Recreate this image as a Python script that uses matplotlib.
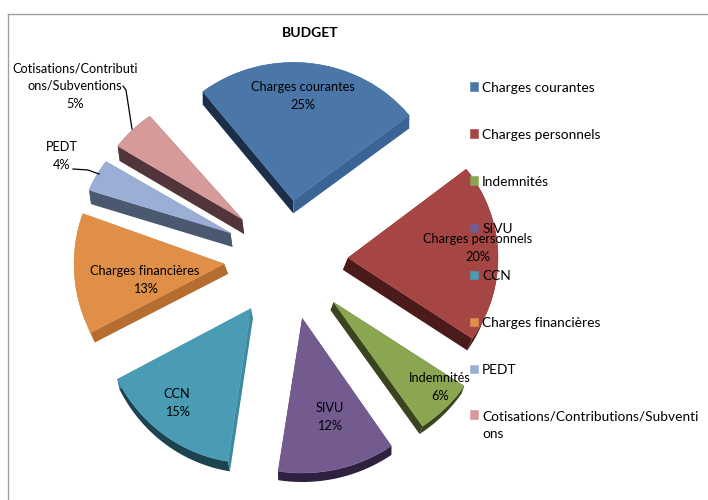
import numpy as np
import matplotlib
matplotlib.use("Agg")
import matplotlib.pyplot as plt
from matplotlib.transforms import Affine2D

labels = ["Charges courantes", "Charges personnels", "Indemnités", "SIVU", "CCN",
          "Charges financières", "PEDT", "Cotisations/Contributions/Subventions"]
legend_labels = labels[:-1] + ["Cotisations/Contributions/Subventi\nons"]
values = [25, 20, 6, 12, 15, 13, 4, 5]
colors = ["#4a76a8", "#a64644", "#8aa650", "#735b90", "#4a9cb4", "#e08f48", "#9bafd6", "#d69a9a"]

# side faces of the fake 3d: first cut, last cut, outer rim
start_side = ["#1b2f4a", "#4a1b1a", "#3a4520", "#2e2140", "#3d8a9e", "#b56d30", "#4a5870", "#52353a"]
end_side = ["#3a6396", "#4a1b1a", "#3a4520", "#2e2140", "#3d8a9e", "#b56d30", "#4a5870", "#52353a"]
rim_side = ["#3a6396", "#4a1b1a", "#3a4520", "#2e2140", "#1c4350", "#b56d30", "#4a5870", "#52353a"]
depth_x = [0, -5, -3, 0, 2, 4, 2, 2]
depth_y = [13, 12, 8, 9, 10, 10, 14, 15]

# perspective of the original: far slices are squashed, near ones stretched
squash_x = [0.98, 1, 1.05, 1.05, 1, 1, 1, 1]
squash_y = [0.92, 0.96, 1, 1.03, 1.03, 1, 0.85, 0.87]
nudge_x = [0, 2, 5, 3, 0, -2, -2, 0]

plt.rcParams["font.family"] = ["Lato", "DejaVu Sans"]

W, H = 708, 500
LEFT, TOP = 8, 14
CX, CY, SCALE = 286, 260, 150


def to_data(px, py):
    return (px - CX) / SCALE, (CY - py) / SCALE


fig = plt.figure(figsize=(W / 100, H / 100), dpi=100)
ax = fig.add_axes([LEFT / W, 0, (W - LEFT) / W, (H - TOP) / H])

wedges, _ = ax.pie(values, colors=colors, startangle=128, counterclock=False,
                   explode=[0.4] * len(values), radius=1)

ax.set_frame_on(True)
ax.set_aspect("equal")
ax.set_xlim((LEFT - CX) / SCALE, (W - CX) / SCALE)
ax.set_ylim((CY - H) / SCALE, (CY - TOP) / SCALE)
ax.set_xticks([])
ax.set_yticks([])
for side in ["right", "bottom"]:
    ax.spines[side].set_visible(False)
for side in ["top", "left"]:
    ax.spines[side].set_color("#a0a0a0")
    ax.spines[side].set_linewidth(1)

for i, w in enumerate(wedges):
    cx, cy = w.center
    shift = nudge_x[i] / SCALE
    w.set_transform(Affine2D().translate(-cx, -cy).scale(squash_x[i], squash_y[i])
                    .translate(cx + shift, cy) + ax.transData)
    w.set_zorder(3)
    w.set_edgecolor(colors[i])
    w.set_linewidth(0.4)

    dx, dy = depth_x[i] / SCALE, -depth_y[i] / SCALE
    t = np.radians(np.linspace(w.theta1, w.theta2, 60))
    ox = cx + shift + squash_x[i] * w.r * np.cos(t)
    oy = cy + squash_y[i] * w.r * np.sin(t)
    ax0 = cx + shift
    ax.fill(np.r_[ox, ox[::-1] + dx], np.r_[oy, oy[::-1] + dy], color=rim_side[i], lw=0, zorder=1)
    # theta2 is where the slice starts because it runs clockwise
    ax.fill([ax0, ox[-1], ox[-1] + dx, ax0 + dx], [cy, oy[-1], oy[-1] + dy, cy + dy],
            color=start_side[i], lw=0, zorder=2)
    ax.fill([ax0, ox[0], ox[0] + dx, ax0 + dx], [cy, oy[0], oy[0] + dy, cy + dy],
            color=end_side[i], lw=0, zorder=2)

leg = ax.legend(wedges, legend_labels, loc="upper left", bbox_to_anchor=(470 / W, (H - 81.5) / H),
                bbox_transform=fig.transFigure, frameon=False, fontsize=9.9,
                handlelength=0.58, handleheight=0.58, handletextpad=0.3,
                labelspacing=2.55, borderpad=0, borderaxespad=0)
leg.get_texts()[-1].set_linespacing(1.5)
# square of the wrapped entry sits level with its first line
last = leg.legend_handles[-1]
last.set_y(last.get_y() + 8)

fig.text(310 / W, 1 - 33 / H, "BUDGET", fontsize=10, fontweight="bold", ha="center", va="center")

slice_text = [
    (303, 96, "Charges courantes\n25%"),
    (478, 248, "Charges personnels\n20%"),
    (440, 387, "Indemnités\n6%"),
    (330, 417, "SIVU\n12%"),
    (177, 403, "CCN\n15%"),
    (145, 280, "Charges financières\n13%"),
    (62, 156, "PEDT\n4%"),
    (75, 86, "Cotisations/Contributi\nons/Subventions\n5%"),
]
for px, py, txt in slice_text:
    x, y = to_data(px, py)
    ax.text(x, y, txt, fontsize=9.2, ha="center", va="center", linespacing=1.55, zorder=6, clip_on=False)

# leader lines
for pts in [[(123, 86), (126, 90), (132, 129)], [(73, 169), (88, 170), (99, 174)]]:
    xy = np.array([to_data(*p) for p in pts])
    ax.plot(xy[:, 0], xy[:, 1], color="black", lw=0.9, zorder=5)

fig.savefig("out.png", dpi=100)
